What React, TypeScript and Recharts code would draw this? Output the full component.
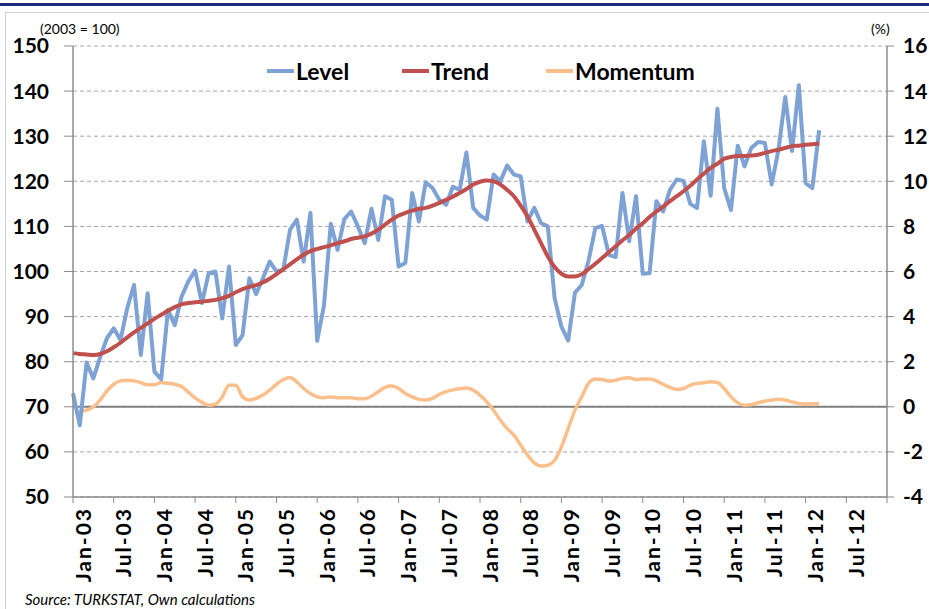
import React from "react";
import {
  ComposedChart,
  Line,
  XAxis,
  YAxis,
  CartesianGrid,
  ReferenceLine,
} from "recharts";

// monthly, Jan-03 .. Mar-12
const level = [
  73.0, 65.9, 79.8, 76.3, 81.0, 85.2, 87.4, 84.8, 91.9, 97.0, 81.5, 95.2,
  77.8, 76.1, 91.5, 88.1, 94.4, 97.8, 100.2, 93.0, 99.6, 100.0, 89.6, 101.1,
  83.7, 85.9, 98.5, 95.0, 98.5, 102.2, 100.0, 100.4, 109.3, 111.5, 102.2, 113.0,
  84.6, 92.5, 110.6, 104.8, 111.6, 113.3, 110.0, 106.3, 113.9, 107.0, 116.7, 115.9,
  101.1, 101.9, 117.4, 111.1, 119.8, 118.5, 115.9, 114.8, 118.8, 118.1, 126.4, 114.1,
  112.4, 111.5, 121.5, 120.0, 123.5, 121.5, 121.1, 111.1, 114.1, 110.7, 110.0, 94.1,
  87.8, 84.7, 95.3, 97.0, 102.4, 109.6, 110.1, 103.7, 103.2, 117.4, 106.7, 116.7,
  99.5, 99.6, 115.6, 113.3, 118.1, 120.4, 120.1, 115.0, 114.1, 128.9, 116.8, 136.1,
  118.5, 113.6, 127.9, 123.3, 127.4, 128.7, 128.5, 119.3, 127.0, 138.7, 126.7, 141.3,
  119.6, 118.5, 131.3,
];

const trend = [
  81.9, 81.7, 81.6, 81.5, 81.7, 82.3, 83.2, 84.2, 85.4, 86.5, 87.5, 88.5,
  89.5, 90.4, 91.3, 92.1, 92.7, 93.0, 93.2, 93.3, 93.5, 93.7, 94.1, 94.6,
  95.4, 96.1, 96.6, 97.0, 97.6, 98.4, 99.4, 100.5, 101.6, 102.7, 103.7, 104.5,
  105.0, 105.4, 105.8, 106.3, 106.7, 107.2, 107.5, 107.8, 108.4, 109.3, 110.4, 111.5,
  112.4, 113.0, 113.5, 113.9, 114.1, 114.6, 115.2, 115.9, 116.6, 117.4, 118.3, 119.3,
  119.9, 120.2, 120.0, 119.3, 118.1, 116.7, 114.6, 112.2, 109.3, 106.3, 103.3, 101.0,
  99.5, 98.9, 98.9, 99.4, 100.5, 101.7, 103.0, 104.3, 105.6, 106.9, 108.1, 109.5,
  110.7, 112.1, 113.3, 114.4, 115.6, 116.7, 117.8, 119.0, 120.4, 121.7, 123.0, 123.9,
  125.0, 125.4, 125.6, 125.6, 125.7, 125.9, 126.3, 126.7, 127.0, 127.4, 127.8, 127.9,
  128.1, 128.2, 128.4,
];

const momentum = [
  null, -0.2, -0.15, 0.0, 0.3, 0.7, 1.0, 1.15, 1.18, 1.15, 1.07, 0.98,
  0.98, 1.08, 1.04, 1.0, 0.9, 0.65, 0.4, 0.2, 0.07, 0.12, 0.44, 0.96,
  0.96, 0.44, 0.3, 0.37, 0.52, 0.74, 1.0, 1.21, 1.3, 1.1, 0.81, 0.59,
  0.44, 0.4, 0.44, 0.4, 0.4, 0.4, 0.36, 0.36, 0.47, 0.67, 0.86, 0.92,
  0.81, 0.59, 0.44, 0.33, 0.3, 0.37, 0.55, 0.67, 0.75, 0.8, 0.83, 0.74,
  0.52, 0.22, -0.15, -0.6, -0.96, -1.26, -1.7, -2.14, -2.49, -2.63, -2.59, -2.37,
  -1.78, -0.96, -0.15, 0.45, 1.04, 1.23, 1.21, 1.14, 1.18, 1.26, 1.29, 1.21,
  1.23, 1.23, 1.15, 1.0, 0.86, 0.77, 0.81, 0.96, 1.04, 1.07, 1.11, 1.08,
  0.81, 0.44, 0.18, 0.07, 0.1, 0.18, 0.25, 0.3, 0.34, 0.3, 0.22, 0.15,
  0.12, 0.13, 0.15,
];

const tickLabels = [
  "Jan-03", "Jul-03", "Jan-04", "Jul-04", "Jan-05", "Jul-05", "Jan-06",
  "Jul-06", "Jan-07", "Jul-07", "Jan-08", "Jul-08", "Jan-09", "Jul-09",
  "Jan-10", "Jul-10", "Jan-11", "Jul-11", "Jan-12", "Jul-12", "",
];

const leftTicks = [50, 60, 70, 80, 90, 100, 110, 120, 130, 140, 150];
const rightTicks = [-4, -2, 0, 2, 4, 6, 8, 10, 12, 14, 16];

const data = level.map((v, i) => ({
  m: i,
  level: v,
  trend: trend[i],
  momentum: momentum[i],
}));

const FONT = "Lato, 'Open Sans', sans-serif";
const AXIS = "#8c8c8c";

const MonthTick = (props: any) => {
  const { x, y, payload } = props;
  const label = tickLabels[Math.round(payload.value / 6)] ?? "";
  const tx = x + 9;
  const ty = y + 2;
  return (
    <text
      x={tx}
      y={ty}
      transform={`rotate(-90, ${tx}, ${ty})`}
      textAnchor="end"
      dominantBaseline="central"
      fontFamily={FONT}
      fontWeight={700}
      fontSize={21}
      letterSpacing={2}
      fill="#000"
    >
      {label}
    </text>
  );
};

const legendItems = [
  { name: "Level", color: "#7fa2d4", left: 267 },
  { name: "Trend", color: "#c0504d", left: 402 },
  { name: "Momentum", color: "#fbbf8c", left: 546 },
];

export default function App() {
  return (
    <div
      style={{
        position: "fixed",
        left: 0,
        top: 0,
        width: 929,
        height: 609,
        background: "#fff",
        overflow: "hidden",
        fontFamily: FONT,
      }}
    >
      <div style={{ position: "absolute", left: 0, top: 3, width: 929, height: 3, background: "#1f2a78" }} />
      <div style={{ position: "absolute", left: 5, top: 12, width: 924, height: 620, border: "1px solid #d0d0d0" }} />

      <ComposedChart
        width={929}
        height={609}
        data={data}
        margin={{ top: 46, right: 0, bottom: 0, left: 0 }}
        style={{ position: "absolute", left: 0, top: 0 }}
      >
        <CartesianGrid
          yAxisId="left"
          vertical={false}
          stroke="#a6a6a6"
          strokeDasharray="4 3"
        />
        <XAxis
          dataKey="m"
          type="number"
          domain={[0, 120]}
          ticks={tickLabels.map((_, i) => i * 6)}
          interval={0}
          height={112}
          tick={<MonthTick />}
          tickSize={6}
          axisLine={{ stroke: AXIS, strokeWidth: 1.5 }}
          tickLine={{ stroke: AXIS }}
        />
        <YAxis
          yAxisId="left"
          domain={[50, 150]}
          ticks={leftTicks}
          interval={0}
          width={73}
          tickSize={9}
          tickMargin={15}
          axisLine={{ stroke: AXIS, strokeWidth: 1.5 }}
          tickLine={{ stroke: AXIS }}
          tick={{ fontFamily: FONT, fontWeight: 700, fontSize: 21, fill: "#000" }}
        />
        <YAxis
          yAxisId="right"
          orientation="right"
          domain={[-4, 16]}
          ticks={rightTicks}
          interval={0}
          width={42}
          tickSize={7}
          tickMargin={9}
          axisLine={{ stroke: AXIS, strokeWidth: 1.5 }}
          tickLine={{ stroke: AXIS }}
          tick={{ fontFamily: FONT, fontWeight: 700, fontSize: 21, fill: "#000", textAnchor: "start" }}
        />
        <ReferenceLine yAxisId="right" y={0} stroke="#808080" strokeWidth={2} />
        <Line
          yAxisId="right"
          dataKey="momentum"
          stroke="#fbbf8c"
          strokeWidth={3.5}
          dot={false}
          type="monotone"
          isAnimationActive={false}
        />
        <Line
          yAxisId="left"
          dataKey="level"
          stroke="#7fa2d4"
          strokeWidth={4}
          dot={false}
          type="linear"
          strokeLinejoin="round"
          isAnimationActive={false}
        />
        <Line
          yAxisId="left"
          dataKey="trend"
          stroke="#c0504d"
          strokeWidth={4}
          dot={false}
          type="monotone"
          isAnimationActive={false}
        />
      </ComposedChart>

      {legendItems.map((it) => (
        <div
          key={it.name}
          style={{
            position: "absolute",
            left: it.left,
            top: 57,
            height: 28,
            display: "flex",
            alignItems: "center",
            fontWeight: 700,
            fontSize: 23,
            color: "#000",
            whiteSpace: "nowrap",
          }}
        >
          <span style={{ display: "inline-block", width: 27, height: 4, background: it.color, marginRight: 2 }} />
          {it.name}
        </div>
      ))}

      <div style={{ position: "absolute", left: 40, top: 20, fontSize: 14, color: "#000" }}>
        (2003 = 100)
      </div>
      <div style={{ position: "absolute", left: 871, top: 20, fontSize: 14, color: "#000" }}>
        (%)
      </div>
      <div
        style={{
          position: "absolute",
          left: 25,
          top: 590,
          fontSize: 15,
          lineHeight: "18px",
          fontStyle: "italic",
          color: "#000",
          whiteSpace: "nowrap",
        }}
      >
        Source: TURKSTAT, Own calculations
      </div>
    </div>
  );
}
